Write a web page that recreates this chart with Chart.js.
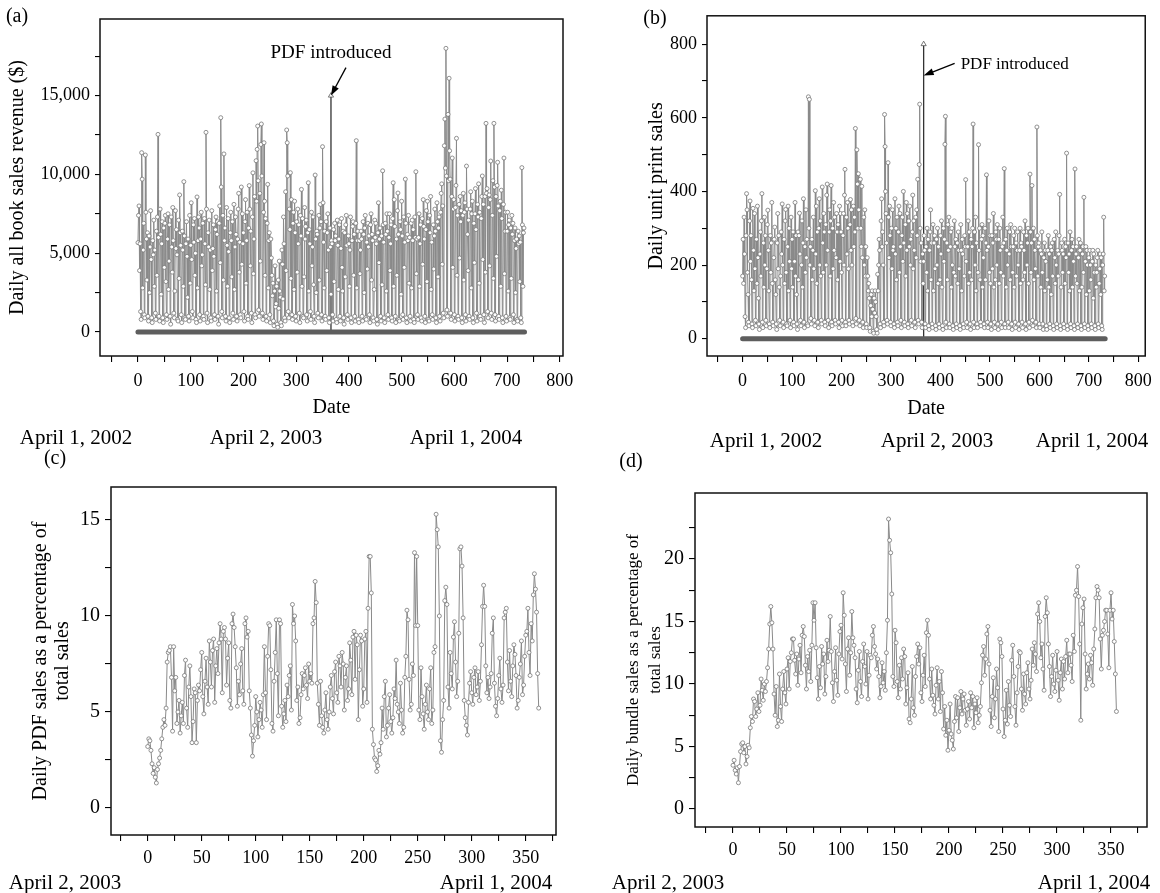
<!DOCTYPE html>
<html>
<head>
<meta charset="utf-8">
<title>Daily sales</title>
<script src="https://cdn.jsdelivr.net/npm/chart.js@4.4.1/dist/chart.umd.min.js"></script>
<style>
  body { margin: 0; background: #fff; }
  #page { position: relative; width: 1160px; height: 893px; overflow: hidden;
          font-family: 'Liberation Serif', 'Times New Roman', serif; color: #000; }
  canvas { position: absolute; }
  .txt { position: absolute; white-space: nowrap; line-height: 1; transform: translate(-50%, -50%); }
</style>
</head>
<body>
<div id="page">
  <canvas id="chartA" width="590" height="425" style="left:0px;top:0px"></canvas>
  <canvas id="chartB" width="560" height="425" style="left:600px;top:0px"></canvas>
  <canvas id="chartC" width="580" height="453" style="left:0px;top:440px"></canvas>
  <canvas id="chartD" width="560" height="453" style="left:600px;top:440px"></canvas>
</div>
<script>
const serif = "'Liberation Serif', 'Times New Roman', serif";

// day the PDF version came out (counted from April 1, 2002)
const pdfDay = 366;

// (a) daily all book sales revenue ($), one row per week (Mon..Sun), from day 0
const revenueA = [
  5670, 7400, 8000, 3900, 5600, 1300, 800,
  11380, 9700, 2800, 5200, 6900, 1100, 900,
  11230, 7600, 5900, 3300, 6300, 1000, 700,
  6100, 2500, 5400, 7700, 4600, 900, 600,
  5800, 4900, 7100, 2900, 5200, 1200, 800,
  6400, 3600, 7300, 12540, 6000, 1000, 700,
  7800, 6200, 2400, 5600, 7000, 900, 600,
  6600, 4100, 6900, 7400, 3200, 1100, 800,
  5900, 7500, 2700, 4500, 6800, 1000, 500,
  7300, 5400, 3800, 7900, 5800, 1200, 900,
  2600, 7700, 5300, 6500, 4900, 800, 700,
  7100, 3400, 8700, 6300, 5500, 1100, 600,
  6400, 5200, 2900, 9540, 6100, 900, 800,
  5600, 7000, 4800, 2200, 5900, 1000, 700,
  7400, 3100, 5500, 8200, 4600, 1300, 900,
  6800, 5700, 7200, 3600, 5000, 800, 600,
  8570, 2800, 5800, 7300, 6600, 1100, 700,
  5900, 7600, 4200, 4900, 6900, 1000, 800,
  7200, 5600, 3000, 12670, 7800, 1200, 600,
  6300, 5400, 7100, 2700, 5200, 900, 700,
  7700, 3900, 5300, 6800, 4800, 1100, 800,
  6500, 7300, 2600, 6200, 7000, 1000, 500,
  6900, 8000, 4400, 13600, 9200, 1300, 900,
  7400, 3300, 11300, 5800, 6600, 1000, 700,
  7900, 5500, 2900, 7200, 5100, 900, 600,
  6300, 7600, 5800, 3500, 7000, 1200, 800,
  8100, 2700, 5400, 7300, 6200, 1000, 700,
  5900, 7800, 8800, 3800, 5700, 1100, 900,
  9200, 4300, 7500, 5600, 6300, 1300, 700,
  7000, 8400, 3100, 5800, 7600, 1000, 800,
  6600, 9290, 7800, 4200, 6400, 1200, 600,
  7300, 10100, 3700, 5900, 8600, 1100, 900,
  10870, 8300, 11590, 13070, 9600, 1400, 1000,
  8800, 4500, 11900, 13200, 9900, 1200, 800,
  7600, 12010, 8300, 3600, 7200, 1000, 700,
  6900, 9370, 2800, 5800, 6300, 1100, 600,
  5900, 4700, 3600, 2300, 3100, 700, 400,
  2600, 4200, 1600, 1800, 2900, 500, 300,
  3300, 1500, 4500, 2600, 2200, 600, 400,
  5200, 4300, 2100, 7300, 5600, 900, 700,
  8900, 3900, 12820, 12010, 9900, 1300, 900,
  7800, 6500, 10110, 3400, 8400, 1100, 800,
  6900, 7600, 2700, 8300, 6300, 1000, 700,
  7000, 3800, 7800, 5600, 6800, 1200, 600,
  7400, 6100, 9050, 2900, 7200, 1000, 900,
  3500, 7900, 5900, 6700, 7100, 1100, 700,
  6300, 9470, 2600, 6500, 5600, 1300, 800,
  7600, 4200, 5400, 7300, 3000, 1000, 600,
  9960, 5900, 2500, 6400, 6200, 1200, 900,
  7400, 3300, 6600, 8100, 7000, 1100, 700,
  11760, 8200, 5700, 2800, 6400, 1000, 800,
  7000, 3900, 6300, 7500, 5200, 900, 600,
  6600, 5400, 2400, 5800, 5600, 1100, 700,
  6500, 3200, 6900, 5800, 6100, 800, 600,
  7100, 5500, 2700, 5900, 6800, 1000, 700,
  5300, 7200, 4100, 2600, 6400, 900, 500,
  6300, 3500, 6800, 7400, 5500, 1100, 800,
  6100, 5600, 2900, 5200, 7300, 900, 600,
  5800, 6700, 7000, 3600, 6200, 1000, 700,
  6900, 12140, 2800, 5800, 6400, 800, 600,
  5800, 3700, 5200, 6400, 5900, 1000, 700,
  7000, 6200, 2500, 6600, 7400, 900, 800,
  5700, 4000, 6900, 5400, 6100, 1100, 600,
  6800, 7500, 3300, 6200, 5800, 900, 700,
  2700, 7100, 6000, 6900, 5600, 800, 500,
  6300, 8200, 4400, 5900, 6600, 1000, 700,
  6100, 3000, 10230, 6800, 5700, 900, 600,
  6900, 6200, 2600, 7500, 6400, 1100, 800,
  6000, 7500, 3900, 5600, 6800, 900, 700,
  7200, 9470, 2900, 8400, 6700, 1000, 600,
  5900, 3600, 7700, 8820, 6200, 800, 700,
  7000, 6500, 2400, 8300, 6100, 1100, 800,
  7300, 4100, 5700, 9700, 6900, 900, 600,
  6200, 5800, 7400, 3100, 6000, 1000, 700,
  6900, 2800, 7100, 5800, 6500, 800, 600,
  7300, 6000, 10170, 3700, 5900, 1100, 800,
  6000, 7500, 2900, 5600, 6800, 900, 700,
  7200, 4300, 8400, 6700, 5900, 1000, 600,
  6500, 7700, 3200, 8300, 7000, 800, 700,
  7400, 6300, 8600, 2700, 5700, 1100, 800,
  6800, 4000, 6100, 7800, 6400, 900, 600,
  8200, 7000, 3500, 6600, 7300, 1000, 700,
  7600, 8800, 9400, 4300, 8000, 1200, 900,
  11820, 13510, 10400, 18000, 9900, 1400, 1000,
  13810, 9600, 16100, 11500, 9700, 1200, 800,
  8600, 11040, 4100, 7800, 8400, 1100, 700,
  7900, 9300, 12290, 3600, 7400, 1000, 800,
  8100, 4700, 8600, 7000, 7700, 900, 600,
  7400, 8800, 3300, 7600, 8200, 1100, 700,
  10530, 7800, 6200, 3900, 7100, 1000, 800,
  7800, 8900, 2800, 7500, 8300, 900, 600,
  6900, 4400, 7500, 9100, 6500, 1200, 700,
  8100, 7300, 9400, 3100, 7600, 1000, 800,
  7200, 8600, 9900, 4600, 8100, 1100, 600,
  8600, 3800, 13240, 8800, 9100, 1300, 900,
  7900, 8700, 4200, 8400, 10850, 1200, 800,
  7400, 9600, 3400, 13240, 9200, 1100, 700,
  8600, 4800, 9300, 10770, 8000, 1000, 800,
  7700, 8300, 2900, 9000, 7200, 900, 600,
  8100, 11040, 3700, 6400, 7600, 1000, 700,
  6400, 7600, 2600, 6800, 7100, 900, 800,
  6600, 3400, 7400, 6200, 6900, 1100, 600,
  5800, 6600, 2500, 5300, 5900, 800, 700,
  6400, 5600, 6100, 3200, 5700, 900, 600,
  10430, 6800, 2900, 6300, 6600
];

// (b) daily unit print sales, same days as (a)
const unitsB = [
  170, 270, 150, 330, 230, 60, 30,
  280, 394, 350, 180, 120, 45, 35,
  320, 374, 210, 280, 160, 40, 30,
  354, 240, 130, 340, 190, 50, 35,
  270, 150, 360, 220, 110, 40, 25,
  230, 290, 170, 320, 394, 45, 30,
  260, 140, 330, 200, 280, 50, 35,
  190, 310, 349, 240, 130, 40, 30,
  280, 180, 260, 370, 150, 45, 35,
  220, 270, 303, 160, 120, 40, 25,
  260, 340, 190, 280, 140, 50, 35,
  170, 290, 230, 366, 200, 45, 30,
  270, 150, 320, 351, 180, 40, 35,
  250, 360, 130, 300, 210, 50, 30,
  330, 190, 270, 140, 290, 45, 35,
  210, 370, 170, 280, 120, 40, 25,
  290, 160, 280, 341, 230, 50, 35,
  200, 320, 140, 260, 380, 45, 30,
  250, 180, 350, 220, 270, 40, 35,
  657, 300, 650, 200, 250, 55, 40,
  270, 160, 240, 330, 190, 50, 35,
  402, 230, 360, 150, 290, 45, 30,
  300, 380, 200, 320, 170, 50, 40,
  412, 260, 180, 340, 290, 45, 35,
  310, 200, 390, 420, 240, 50, 30,
  290, 350, 170, 320, 416, 45, 35,
  300, 190, 370, 240, 330, 50, 40,
  220, 340, 290, 160, 310, 45, 30,
  360, 210, 340, 290, 180, 50, 35,
  280, 340, 200, 390, 460, 45, 35,
  330, 230, 370, 300, 190, 50, 40,
  310, 378, 240, 350, 200, 45, 35,
  360, 250, 330, 290, 571, 55, 40,
  513, 420, 300, 448, 350, 50, 35,
  433, 300, 250, 414, 220, 45, 30,
  330, 200, 350, 170, 250, 40, 30,
  220, 170, 130, 150, 110, 30, 20,
  90, 120, 60, 130, 80, 20, 15,
  110, 70, 130, 100, 60, 25, 15,
  175, 130, 200, 270, 240, 40, 30,
  320, 380, 250, 290, 200, 45, 35,
  609, 522, 400, 340, 260, 50, 40,
  478, 330, 220, 360, 280, 45, 35,
  300, 190, 350, 240, 250, 40, 30,
  380, 230, 300, 160, 330, 45, 35,
  290, 360, 180, 340, 250, 50, 30,
  280, 330, 210, 400, 260, 45, 35,
  310, 170, 370, 240, 340, 40, 30,
  320, 250, 360, 200, 270, 50, 35,
  290, 390, 190, 320, 240, 45, 30,
  330, 220, 350, 280, 433, 50, 40,
  473, 637, 300, 210, 260, 45, 30,
  230, 150, 210, 280, 240, 40, 30,
  250, 180, 300, 130, 270, 35, 25,
  240, 290, 350, 160, 260, 40, 30,
  310, 130, 260, 280, 190, 35, 25,
  270, 200, 300, 150, 250, 40, 30,
  160, 280, 230, 320, 140, 35, 25,
  300, 210, 270, 528, 604, 45, 30,
  260, 160, 310, 240, 330, 40, 30,
  250, 290, 140, 300, 200, 35, 25,
  180, 320, 250, 170, 270, 40, 30,
  260, 150, 290, 240, 190, 35, 25,
  310, 240, 130, 270, 230, 40, 30,
  170, 280, 250, 432, 210, 45, 30,
  250, 320, 150, 290, 180, 40, 25,
  270, 160, 250, 300, 583, 45, 30,
  290, 200, 330, 130, 260, 40, 30,
  180, 527, 240, 300, 160, 45, 35,
  270, 310, 140, 280, 220, 40, 30,
  300, 160, 260, 445, 240, 45, 30,
  250, 320, 180, 280, 150, 40, 25,
  280, 190, 260, 340, 140, 45, 30,
  160, 290, 270, 200, 310, 40, 25,
  270, 150, 300, 240, 180, 45, 30,
  250, 330, 170, 260, 462, 40, 30,
  270, 140, 240, 300, 200, 45, 30,
  230, 290, 160, 310, 250, 40, 25,
  180, 250, 280, 140, 300, 45, 30,
  260, 170, 240, 290, 200, 40, 25,
  240, 300, 150, 260, 250, 45, 30,
  160, 290, 240, 180, 320, 40, 25,
  280, 200, 260, 300, 150, 45, 30,
  447, 290, 180, 260, 416, 50, 35,
  300, 160, 270, 240, 190, 45, 30,
  575, 280, 170, 250, 260, 40, 30,
  240, 140, 230, 290, 180, 40, 25,
  220, 260, 130, 240, 210, 35, 25,
  160, 240, 280, 140, 230, 40, 30,
  250, 120, 240, 260, 170, 35, 25,
  270, 220, 150, 290, 200, 40, 30,
  240, 170, 230, 280, 392, 35, 25,
  140, 260, 240, 180, 230, 40, 30,
  270, 150, 250, 220, 504, 35, 25,
  260, 180, 230, 130, 290, 40, 30,
  240, 270, 140, 250, 210, 35, 25,
  461, 170, 230, 250, 150, 40, 30,
  220, 270, 130, 240, 260, 35, 25,
  140, 230, 250, 180, 384, 40, 30,
  210, 250, 120, 240, 200, 35, 25,
  220, 130, 240, 200, 160, 40, 30,
  210, 240, 110, 230, 180, 35, 25,
  200, 140, 180, 220, 240, 40, 30,
  150, 190, 230, 120, 220, 35, 25,
  200, 230, 330, 130, 170
];

// (c) daily PDF sales as % of total, from April 2, 2003 (day 0)
const pdfPctC = [
  3.2, 3.6, 3.5, 3.0, 2.3, 1.8, 2.1, 1.6, 1.3, 2.0,
  2.3, 2.6, 3.0, 3.6, 4.2, 4.6, 4.3, 5.2, 7.6, 8.1,
  8.2, 8.4, 6.8, 4.0, 8.4, 6.1, 6.8, 4.4, 5.0, 5.6,
  3.9, 4.8, 5.5, 4.4, 6.9, 7.7, 5.2, 4.2, 6.3, 7.4,
  5.8, 3.4, 4.5, 6.2, 6.0, 3.4, 5.6, 6.4, 6.1, 7.2,
  8.1, 5.8, 4.9, 6.6, 7.8, 6.3, 5.4, 8.7, 7.6, 6.3,
  8.2, 8.8, 5.5, 7.4, 8.3, 7.0, 8.6, 9.6, 8.8, 6.0,
  9.2, 9.4, 8.8, 6.4, 7.8, 8.6, 5.6, 5.2, 9.6, 10.1,
  9.4, 8.4, 7.3, 5.3, 6.6, 5.9, 7.5, 8.3, 6.1, 5.4,
  9.6, 9.9, 8.9, 9.2, 6.1, 5.2, 3.8, 2.7, 3.5, 4.3,
  5.8, 5.0, 3.7, 4.6, 5.5, 5.1, 4.2, 5.9, 8.4, 6.0,
  4.6, 7.9, 9.6, 9.5, 7.2, 4.4, 4.0, 6.6, 8.1, 9.8,
  7.0, 4.8, 9.8, 9.6, 5.3, 4.2, 4.9, 5.6, 4.5, 6.4,
  5.8, 6.9, 7.4, 5.1, 10.6, 9.6, 10.0, 8.7, 5.6, 6.3,
  4.4, 4.7, 5.9, 7.0, 6.2, 6.9, 7.3, 6.4, 5.7, 7.5,
  6.6, 7.0, 6.5, 9.6, 9.9, 11.8, 10.7, 6.5, 5.4, 4.3,
  6.6, 4.8, 4.2, 3.9, 5.1, 6.0, 4.6, 4.1, 5.0, 6.3,
  6.9, 5.7, 4.9, 7.1, 7.6, 6.0, 5.5, 7.9, 7.4, 6.3,
  8.1, 7.5, 5.1, 6.8, 7.4, 5.6, 6.2, 8.6, 7.7, 5.9,
  8.9, 9.2, 6.7, 9.0, 8.5, 4.6, 7.2, 9.0, 8.7, 5.3,
  6.2, 8.8, 9.2, 5.5, 10.4, 13.1, 13.1, 11.2, 4.1, 3.3,
  2.6, 2.5, 1.9, 2.2, 3.0, 2.8, 3.4, 5.2, 4.1, 5.8,
  6.6, 3.7, 4.3, 5.2, 5.9, 4.5, 3.9, 4.7, 6.2, 5.7,
  7.7, 5.4, 5.0, 4.4, 6.5, 5.1, 3.9, 4.2, 6.8, 7.9,
  10.3, 9.8, 6.7, 5.1, 5.4, 7.5, 6.9, 13.3, 9.5, 13.1,
  9.5, 5.1, 4.6, 7.3, 5.8, 4.9, 4.1, 5.4, 6.4, 5.0,
  4.6, 6.2, 7.3, 4.4, 5.1, 8.1, 8.4, 15.3, 14.5, 13.6,
  10.0, 3.5, 2.9, 4.6, 5.6, 10.8, 11.5, 10.6, 6.3, 5.2,
  8.1, 7.0, 6.2, 8.9, 9.7, 7.6, 5.8, 6.6, 9.1, 13.5,
  13.6, 12.6, 9.9, 5.6, 4.7, 4.3, 3.8, 5.5, 6.5, 7.1,
  6.0, 5.4, 6.8, 7.3, 5.9, 6.3, 7.1, 5.6, 6.6, 8.5,
  10.5, 11.6, 10.5, 7.4, 6.0, 6.8, 5.7, 6.3, 7.0, 9.1,
  9.9, 6.5, 5.3, 4.8, 5.7, 6.9, 7.8, 6.2, 5.5, 6.4,
  9.9, 10.2, 10.4, 7.6, 6.1, 8.2, 6.6, 5.8, 7.4, 8.5,
  8.0, 6.9, 5.2, 5.6, 6.8, 7.5, 8.7, 5.9, 6.4, 7.9,
  9.0, 9.2, 10.4, 8.1, 6.9, 9.6, 8.7, 11.1, 12.2, 11.4,
  10.2, 7.0, 5.2
];

// (d) daily bundle sales as % of total, from April 2, 2003 (day 0)
const bundlePctD = [
  3.5, 3.9, 3.1, 2.8, 3.3, 2.1, 3.4, 4.6, 5.2, 5.3,
  4.5, 5.0, 3.6, 4.2, 5.1, 4.9, 6.5, 7.4, 7.0, 8.8,
  8.6, 7.4, 8.0, 9.3, 7.8, 8.3, 10.4, 9.5, 8.7, 10.0,
  9.4, 10.2, 11.3, 12.8, 14.8, 16.2, 14.9, 12.8, 9.2, 7.5,
  9.8, 6.6, 7.1, 10.8, 8.2, 7.0, 9.6, 11.0, 9.3, 8.4,
  11.2, 12.1, 9.6, 11.8, 12.5, 13.6, 13.6, 11.9, 10.8, 12.4,
  9.9, 12.0, 13.1, 10.9, 13.9, 14.6, 13.8, 11.5, 9.6, 12.2,
  11.0, 12.7, 10.2, 13.1, 16.5, 15.1, 16.5, 12.9, 10.5, 8.8,
  11.4, 9.7, 13.0, 11.6, 12.4, 9.2, 10.6, 13.5, 11.8, 12.7,
  15.4, 12.6, 10.1, 8.6, 11.0, 12.9, 10.3, 9.1, 12.4, 14.2,
  14.7, 12.0, 17.3, 15.5, 11.6, 9.4, 12.8, 13.7, 10.7, 12.5,
  15.8, 13.7, 13.1, 12.1, 9.6, 8.5, 11.1, 12.6, 10.2, 9.0,
  11.8, 13.2, 11.4, 10.0, 12.6, 8.8, 10.7, 12.3, 12.1, 13.9,
  14.6, 13.0, 12.4, 11.2, 12.0, 10.6, 8.9, 9.8, 11.7, 10.1,
  11.0, 9.5, 12.5, 15.1, 23.2, 21.5, 20.5, 17.2, 10.6, 9.8,
  14.3, 13.3, 10.2, 8.9, 11.5, 9.6, 12.1, 10.4, 12.8, 12.2,
  8.4, 9.7, 10.9, 7.2, 6.9, 8.8, 11.4, 8.1, 7.5, 10.6,
  12.2, 13.2, 11.6, 12.9, 9.3, 8.6, 10.7, 12.3, 9.8, 14.1,
  15.1, 13.9, 10.4, 8.8, 11.2, 9.1, 8.3, 7.6, 9.9, 11.3,
  8.8, 10.2, 7.8, 11.0, 9.3, 6.4, 8.2, 5.9, 7.1, 4.7,
  6.3, 8.4, 6.0, 5.5, 4.8, 7.0, 9.0, 7.3, 8.9, 6.2,
  8.1, 9.4, 7.6, 8.8, 9.2, 7.9, 6.7, 8.0, 8.6, 7.2,
  9.3, 8.1, 9.0, 6.5, 8.4, 7.7, 8.9, 6.9, 7.5, 8.2,
  10.1, 12.3, 13.0, 10.7, 12.0, 14.0, 14.6, 11.6, 7.9, 6.6,
  9.0, 10.5, 7.3, 8.8, 11.2, 9.7, 6.2, 13.6, 13.3, 12.2,
  8.0, 5.8, 7.1, 9.5, 6.8, 10.2, 8.3, 7.4, 11.9, 13.1,
  10.6, 8.2, 6.7, 9.3, 11.4, 12.6, 12.5, 9.6, 7.9, 10.8,
  9.2, 8.4, 10.9, 11.7, 9.6, 8.8, 10.3, 12.8, 11.5, 13.3,
  12.4, 11.0, 15.6, 16.5, 15.0, 12.1, 13.2, 11.2, 9.5, 15.4,
  16.9, 15.7, 13.2, 11.4, 9.0, 10.6, 12.3, 10.0, 9.4, 11.1,
  12.6, 10.3, 8.7, 10.9, 12.0, 9.6, 11.8, 10.4, 12.2, 13.5,
  10.9, 12.4, 12.4, 11.5, 10.2, 13.9, 12.6, 17.1, 17.5, 19.4,
  17.0, 13.2, 7.1, 14.8, 16.1, 16.8, 12.4, 9.6, 10.8, 11.6,
  10.4, 12.3, 11.7, 9.9, 12.8, 14.4, 16.9, 17.8, 17.5, 16.9,
  13.6, 11.2, 13.9, 14.3, 15.0, 15.9, 15.9, 14.0, 11.3, 15.9,
  17.3, 15.2, 15.9, 13.4, 10.8, 7.8
];

// zero series drawn along the bottom of (a) and (b), first and last day
const baselineDays = [0, 733];
// the "PDF introduced" spike, bottom and top values
const pdfSpikeA = [0, 15000];
const pdfSpikeB = [0, 800];

// tick values and their labels
const xTicksAB = [0, 100, 200, 300, 400, 500, 600, 700, 800];
const xLabelsAB = ['0', '100', '200', '300', '400', '500', '600', '700', '800'];
const yTicksA = [0, 5000, 10000, 15000];
const yLabelsA = ['0', '5,000', '10,000', '15,000'];
const yTicksB = [0, 200, 400, 600, 800];
const yLabelsB = ['0', '200', '400', '600', '800'];
const xTicksCD = [0, 50, 100, 150, 200, 250, 300, 350];
const xLabelsCD = ['0', '50', '100', '150', '200', '250', '300', '350'];
const yTicksC = [0, 5, 10, 15];
const yLabelsC = ['0', '5', '10', '15'];
const yTicksD = [0, 5, 10, 15, 20];
const yLabelsD = ['0', '5', '10', '15', '20'];

// text around the plots
const panelTags = ['(a)', '(b)', '(c)', '(d)'];
const datesTop = ['April 1, 2002', 'April 2, 2003', 'April 1, 2004'];
const datesBottom = ['April 2, 2003', 'April 1, 2004'];

Chart.defaults.font.family = serif;
Chart.defaults.color = '#000';

function seriesSet(values) {
  return {
    data: values.map((v, i) => ({ x: i, y: v })),
    borderColor: '#8a8a8a',
    borderWidth: 1,
    pointRadius: 2,
    pointBorderWidth: 0.8,
    pointBorderColor: '#777',
    pointBackgroundColor: '#fff',
    tension: 0
  };
}

function baselineSet() {
  return {
    data: baselineDays.map(d => ({ x: d, y: 0 })),
    borderColor: '#5e5e5e',
    borderWidth: 5,
    borderCapStyle: 'round',
    pointRadius: 0
  };
}

function spikeSet(values) {
  return {
    data: values.map(v => ({ x: pdfDay, y: v })),
    borderColor: '#333',
    borderWidth: 1.3,
    pointStyle: 'triangle',
    pointRadius: [0, 3],
    pointBorderColor: '#555',
    pointBorderWidth: 0.8,
    pointBackgroundColor: '#fff'
  };
}

const framePlugin = {
  id: 'frame',
  afterDraw(chart) {
    const { ctx, chartArea: a } = chart;
    ctx.save();
    ctx.strokeStyle = '#111';
    ctx.lineWidth = 1.5;
    ctx.strokeRect(a.left, a.top, a.right - a.left, a.bottom - a.top);
    ctx.restore();
  }
};

// arrow + label pointing at the PDF spike
const notePlugin = {
  id: 'note',
  afterDraw(chart, args, o) {
    if (!o || !o.text) return;
    const { ctx, scales: { x, y } } = chart;
    const tipX = x.getPixelForValue(o.day), tipY = y.getPixelForValue(o.value);
    const tailX = tipX + o.dx, tailY = tipY + o.dy;
    const ang = Math.atan2(tipY - tailY, tipX - tailX);
    const len = 10, w = 3.5;
    ctx.save();
    ctx.strokeStyle = '#000';
    ctx.fillStyle = '#000';
    ctx.lineWidth = 1.3;
    ctx.beginPath();
    ctx.moveTo(tailX, tailY);
    ctx.lineTo(tipX - 6 * Math.cos(ang), tipY - 6 * Math.sin(ang));
    ctx.stroke();
    ctx.beginPath();
    ctx.moveTo(tipX, tipY);
    ctx.lineTo(tipX - len * Math.cos(ang) + w * Math.sin(ang), tipY - len * Math.sin(ang) - w * Math.cos(ang));
    ctx.lineTo(tipX - len * Math.cos(ang) - w * Math.sin(ang), tipY - len * Math.sin(ang) + w * Math.cos(ang));
    ctx.closePath();
    ctx.fill();
    ctx.font = o.size + 'px ' + serif;
    ctx.textAlign = o.align;
    ctx.textBaseline = 'middle';
    ctx.fillText(o.text, tipX + o.tx, tipY + o.ty);
    ctx.restore();
  }
};

function axis(dir, a) {
  return {
    type: 'linear',
    min: a.min,
    max: a.max,
    border: { display: false },
    grid: { drawOnChartArea: false, drawTicks: true, tickLength: a.tick, color: '#000', lineWidth: 1.1 },
    ticks: {
      autoSkip: false,
      maxRotation: 0,
      padding: a.pad,
      font: { size: a.font },
      callback: v => {
        const i = a.vals.indexOf(v);
        return i >= 0 ? a.labels[i] : '';
      }
    },
    title: {
      display: !!a.title,
      text: a.title,
      font: { size: a.titleSize, lineHeight: a.titleLH || 1.2 },
      padding: a.titlePad || 0
    },
    // tick marks every `step`, major ones get a label
    afterBuildTicks: s => {
      const top = a.tickMax !== undefined ? a.tickMax : a.max;
      const ticks = [];
      for (let k = Math.ceil(a.min / a.step); k * a.step <= top; k++) {
        ticks.push({ value: k * a.step + 0 });
      }
      s.ticks = ticks;
    },
    afterFit: s => { if (dir === 'x') s.height = a.size; else s.width = a.size; }
  };
}

function makeChart(id, cfg) {
  return new Chart(document.getElementById(id), {
    type: 'line',
    data: { datasets: cfg.datasets },
    options: {
      responsive: false,
      animation: false,
      events: [],
      layout: { padding: cfg.padding },
      plugins: { legend: { display: false }, tooltip: { enabled: false }, note: cfg.note || false },
      scales: { x: axis('x', cfg.x), y: axis('y', cfg.y) }
    },
    plugins: [framePlugin, notePlugin]
  });
}

makeChart('chartA', {
  datasets: [seriesSet(revenueA), baselineSet(), spikeSet(pdfSpikeA)],
  padding: { top: 19, right: 27, left: 0, bottom: 0 },
  x: { min: -72, max: 806, step: 50, vals: xTicksAB, labels: xLabelsAB, tick: 6, pad: 8, font: 18, size: 69,
       title: 'Date', titleSize: 20, titlePad: { top: 0, bottom: 5 } },
  y: { min: -1520, max: 19860, step: 2500, vals: yTicksA, labels: yLabelsA, tick: 5, pad: 5, font: 18, size: 100,
       title: 'Daily all book sales revenue ($)', titleSize: 20, titlePad: { top: 6, bottom: 0 } },
  note: { text: 'PDF introduced', day: pdfDay, value: 15000, dx: 15, dy: -28, tx: 0, ty: -43, size: 19, align: 'center' }
});

makeChart('chartB', {
  datasets: [seriesSet(unitsB), baselineSet(), spikeSet(pdfSpikeB)],
  padding: { top: 11, right: 12, left: 0, bottom: 0 },
  x: { min: -72, max: 814, step: 50, vals: xTicksAB, labels: xLabelsAB, tick: 6, pad: 8, font: 18, size: 69,
       title: 'Date', titleSize: 20, titlePad: { top: 0, bottom: 4 } },
  y: { min: -47, max: 877, step: 100, vals: yTicksB, labels: yLabelsB, tick: 5, pad: 5, font: 18, size: 107,
       title: 'Daily unit print sales', titleSize: 20, titlePad: { top: 45, bottom: 0 } },
  note: { text: 'PDF introduced', day: pdfDay, value: 715, dx: 31, dy: -12, tx: 37, ty: -11, size: 17, align: 'left' }
});

makeChart('chartC', {
  datasets: [seriesSet(pdfPctC)],
  padding: { top: 47, right: 24, left: 0, bottom: 0 },
  x: { min: -34, max: 378, step: 25, vals: xTicksCD, labels: xLabelsCD, tick: 6, pad: 6, font: 18, size: 58 },
  y: { min: -1.41, max: 16.72, step: 2.5, vals: yTicksC, labels: yLabelsC, tick: 6, pad: 5, font: 20, size: 111,
       title: ['Daily PDF sales as a percentage of', 'total sales'], titleSize: 20, titleLH: 1.1,
       titlePad: { top: 30, bottom: 0 } }
});

makeChart('chartD', {
  datasets: [seriesSet(bundlePctD)],
  padding: { top: 53, right: 13, left: 0, bottom: 0 },
  x: { min: -35.2, max: 383.3, step: 25, vals: xTicksCD, labels: xLabelsCD, tick: 6, pad: 6, font: 18, size: 66 },
  y: { min: -1.44, max: 25.28, step: 2.5, vals: yTicksD, labels: yLabelsD, tick: 6, pad: 5, font: 20, size: 95,
       tickMax: 23, title: ['Daily bundle sales as a percentage of', 'total sales'], titleSize: 17, titleLH: 1.3,
       titlePad: { top: 22, bottom: 0 } }
});

// panel letters and date captions under the axes
const page = document.getElementById('page');
function addText(str, x, y, size) {
  const d = document.createElement('div');
  d.className = 'txt';
  d.textContent = str;
  d.style.left = x + 'px';
  d.style.top = y + 'px';
  d.style.fontSize = size + 'px';
  page.appendChild(d);
}
const tagXY = [[17, 15], [655, 17], [55, 457], [631, 460]];
panelTags.forEach((t, i) => addText(t, tagXY[i][0], tagXY[i][1], 20));
[76, 266, 466].forEach((x, i) => addText(datesTop[i], x, 437, 21));
[766, 937, 1092].forEach((x, i) => addText(datesTop[i], x, 440, 21));
[65, 496].forEach((x, i) => addText(datesBottom[i], x, 882, 21));
[668, 1094].forEach((x, i) => addText(datesBottom[i], x, 882, 21));
</script>
</body>
</html>
